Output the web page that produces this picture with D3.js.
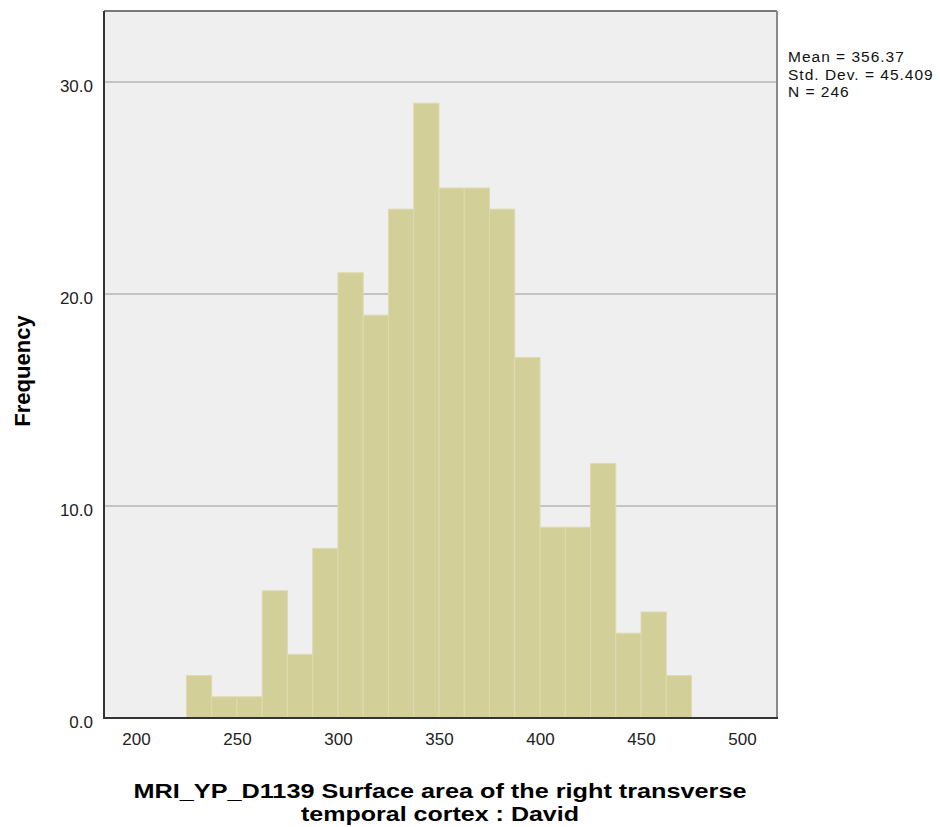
<!DOCTYPE html>
<html>
<head>
<meta charset="utf-8">
<script src="https://cdn.jsdelivr.net/npm/d3@7/dist/d3.min.js"></script>
<style>
  body { margin: 0; background: #ffffff; }
  svg { display: block; }
</style>
</head>
<body>
<svg id="chart" width="940" height="827"></svg>
<script>
// Data
const binStarts = [225, 237.5, 250, 262.5, 275, 287.5, 300, 312.5, 325, 337.5, 350, 362.5, 375, 387.5, 400, 412.5, 425, 437.5, 450, 462.5];
const binWidth = 12.5;
const frequencies = [2, 1, 1, 6, 3, 8, 21, 19, 24, 29, 25, 25, 24, 17, 9, 9, 12, 4, 5, 2];
const xTicks = [200, 250, 300, 350, 400, 450, 500];
const yTicks = [0, 10, 20, 30];
const statsLines = ["Mean = 356.37", "Std. Dev. = 45.409", "N = 246"];
const xTitleLines = ["MRI_YP_D1139 Surface area of the right transverse", "temporal cortex : David"];
const yTitle = "Frequency";

const svg = d3.select("#chart");
const plot = { left: 104, top: 11, right: 777, bottom: 718 };
const sans = "Liberation Sans, Arial, sans-serif";

const x = d3.scaleLinear().domain([184.2, 517.3]).range([plot.left, plot.right]);
const y = d3.scaleLinear().domain([0, 33.35]).range([plot.bottom, plot.top]);

// Background
svg.append("rect")
  .attr("x", plot.left).attr("y", plot.top)
  .attr("width", plot.right - plot.left).attr("height", plot.bottom - plot.top)
  .attr("fill", "#efefef");

// Gridlines
svg.append("g").selectAll("line")
  .data(yTicks.filter(d => d > 0))
  .join("line")
  .attr("x1", plot.left).attr("x2", plot.right)
  .attr("y1", d => y(d)).attr("y2", d => y(d))
  .attr("stroke", "#c4c4c4").attr("stroke-width", 2);

// Bars
const bins = binStarts.map((s, i) => ({ x0: s, x1: s + binWidth, n: frequencies[i] }));
svg.append("g").selectAll("rect")
  .data(bins)
  .join("rect")
  .attr("x", d => x(d.x0))
  .attr("y", d => y(d.n))
  .attr("width", d => x(d.x1) - x(d.x0))
  .attr("height", d => y(0) - y(d.n))
  .attr("fill", "#d3cf98")
  .attr("stroke", "#dedab0")
  .attr("stroke-width", 1);

// Frame
svg.append("line").attr("x1", plot.left).attr("x2", plot.right).attr("y1", plot.top).attr("y2", plot.top)
  .attr("stroke", "#7a7a7a").attr("stroke-width", 2);
svg.append("line").attr("x1", plot.right).attr("x2", plot.right).attr("y1", plot.top).attr("y2", plot.bottom)
  .attr("stroke", "#8a8a8a").attr("stroke-width", 2);
svg.append("line").attr("x1", plot.left).attr("x2", plot.left).attr("y1", plot.top).attr("y2", plot.bottom + 1)
  .attr("stroke", "#333333").attr("stroke-width", 2);
svg.append("line").attr("x1", plot.left).attr("x2", plot.right + 1).attr("y1", plot.bottom).attr("y2", plot.bottom)
  .attr("stroke", "#333333").attr("stroke-width", 2);

// Axes (labels only, no tick marks)
const xAxis = d3.axisBottom(x).tickValues(xTicks).tickSize(0).tickPadding(15).tickFormat(d3.format("d"));
const gx = svg.append("g").attr("transform", `translate(0,${plot.bottom})`).call(xAxis);
gx.select(".domain").remove();
gx.selectAll("text").attr("font-family", sans).attr("font-size", 17).attr("fill", "#222");

const yAxis = d3.axisLeft(y).tickValues(yTicks).tickSize(0).tickPadding(11).tickFormat(d3.format(".1f"));
const gy = svg.append("g").attr("transform", `translate(${plot.left},0)`).call(yAxis);
gy.select(".domain").remove();
gy.selectAll("text").attr("font-family", sans).attr("font-size", 17).attr("fill", "#222").attr("dy", "0.55em");

// Stats text
svg.append("g").selectAll("text")
  .data(statsLines)
  .join("text")
  .attr("x", 788)
  .attr("y", (d, i) => 62 + i * 17.5)
  .attr("font-family", sans)
  .attr("font-size", 15.5)
  .attr("letter-spacing", 1)
  .attr("fill", "#111")
  .text(d => d);

// X title (stretched to the reference's wide bold rendering)
const titleWidths = [613, 278];
svg.append("g").selectAll("text")
  .data(xTitleLines)
  .join("text")
  .attr("x", 440)
  .attr("y", (d, i) => 797.5 + i * 23)
  .attr("text-anchor", "middle")
  .attr("font-family", sans)
  .attr("font-weight", "bold")
  .attr("font-size", 20.5)
  .attr("textLength", (d, i) => titleWidths[i])
  .attr("lengthAdjust", "spacingAndGlyphs")
  .attr("fill", "#000")
  .text(d => d);

// Y title
svg.append("text")
  .attr("transform", "translate(30,371) rotate(-90)")
  .attr("text-anchor", "middle")
  .attr("font-family", sans)
  .attr("font-weight", "bold")
  .attr("font-size", 22)
  .attr("fill", "#000")
  .text(yTitle);
</script>
</body>
</html>
